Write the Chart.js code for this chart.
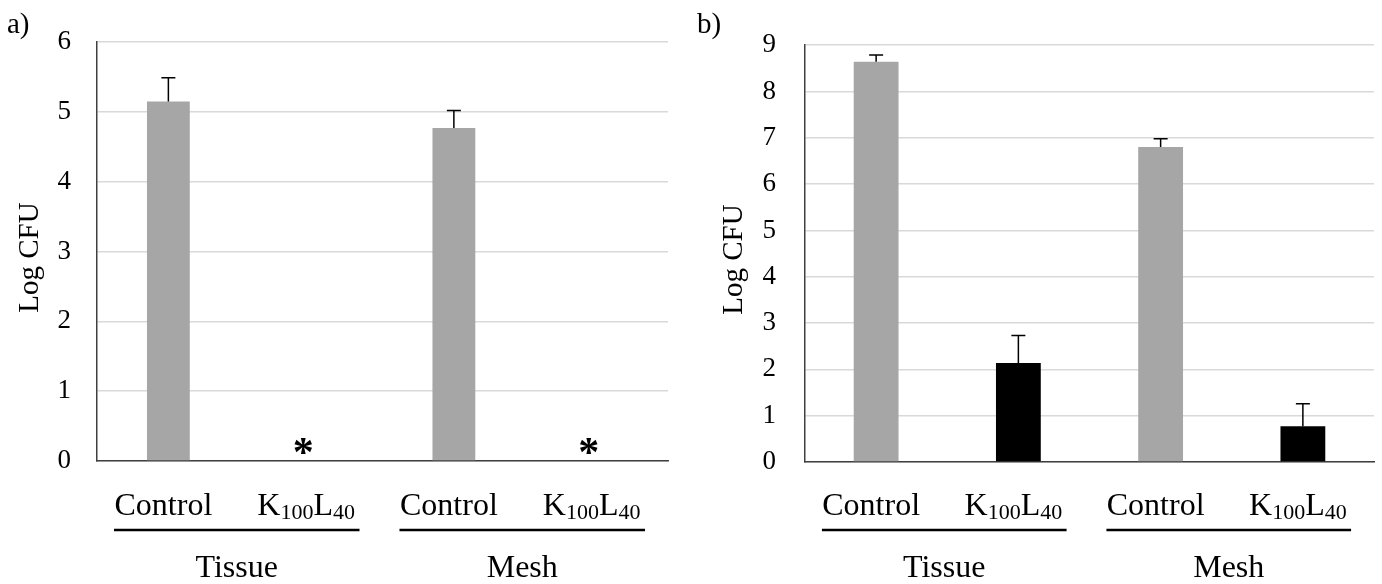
<!DOCTYPE html>
<html>
<head>
<meta charset="UTF-8">
<title>Log CFU - Tissue / Mesh</title>
<script src="https://cdn.jsdelivr.net/npm/chart.js@4"></script>
<style>
  html, body { margin: 0; padding: 0; background: #fff; }
  .panel { position: absolute; top: 0; height: 584px; }
  #pa { left: 0; width: 690px; }
  #pb { left: 690px; width: 692px; }
</style>
</head>
<body>
<div class="panel" id="pa"><canvas id="chartA"></canvas></div>
<div class="panel" id="pb"><canvas id="chartB"></canvas></div>
<script>
const categories = ['Control', 'K100L40', 'Control', 'K100L40'];
const groups = ['Tissue', 'Mesh'];
const barColors = ['#a6a6a6', '#000000', '#a6a6a6', '#000000'];

// panel a)
const valuesA = [5.15, 0, 4.77, 0];
const errorsA = [0.34, 0, 0.25, 0];
const starsA = ['', '*', '', '*'];
const ticksA = [0, 1, 2, 3, 4, 5, 6];

// panel b)
const valuesB = [8.64, 2.14, 6.80, 0.77];
const errorsB = [0.15, 0.59, 0.18, 0.49];
const starsB = ['', '', '', ''];
const ticksB = [0, 1, 2, 3, 4, 5, 6, 7, 8, 9];

const SERIF = "'Liberation Serif', 'Times New Roman', serif";

// draws "K100L40" with the digits as subscripts, centred on x
function drawLabel(ctx, text, x, y) {
  const parts = text.match(/[0-9]+|[^0-9]+/g);
  const fontFor = p => /^[0-9]+$/.test(p) ? `22px ${SERIF}` : `32px ${SERIF}`;
  let total = 0;
  parts.forEach(p => { ctx.font = fontFor(p); total += ctx.measureText(p).width; });
  let cx = x - total / 2;
  ctx.textAlign = 'left';
  parts.forEach(p => {
    ctx.font = fontFor(p);
    const sub = /^[0-9]+$/.test(p);
    ctx.fillText(p, cx, sub ? y + 4 : y);
    cx += ctx.measureText(p).width;
  });
}

const decoPlugin = {
  id: 'deco',
  afterDatasetsDraw(chart, args, opts) {
    const ctx = chart.ctx;
    const xs = chart.scales.x, ys = chart.scales.y;
    const meta = chart.getDatasetMeta(0);
    const vals = chart.data.datasets[0].data;
    const area = chart.chartArea;
    ctx.save();
    ctx.fillStyle = '#000';
    ctx.strokeStyle = '#000';

    // error bars (upper only)
    ctx.lineWidth = 1.5;
    meta.data.forEach((bar, i) => {
      const e = opts.errors[i];
      if (!e) return;
      const y0 = ys.getPixelForValue(vals[i]);
      const y1 = ys.getPixelForValue(vals[i] + e);
      ctx.beginPath();
      ctx.moveTo(bar.x, y0);
      ctx.lineTo(bar.x, y1);
      ctx.moveTo(bar.x - 7, y1);
      ctx.lineTo(bar.x + 7, y1);
      ctx.stroke();
    });

    // asterisks for below-detection values
    ctx.font = `bold 42px ${SERIF}`;
    ctx.textAlign = 'center';
    ctx.textBaseline = 'alphabetic';
    opts.stars.forEach((s, i) => {
      if (!s) return;
      ctx.fillText(s, xs.getPixelForValue(i) - 8, area.bottom + 5);
    });

    // category labels
    const cw = xs.getPixelForValue(1) - xs.getPixelForValue(0);
    categories.forEach((c, i) => {
      drawLabel(ctx, c, xs.getPixelForValue(i) - 5, 515);
    });

    // group underline + names
    groups.forEach((g, k) => {
      const gc = (xs.getPixelForValue(2 * k) + xs.getPixelForValue(2 * k + 1)) / 2 - 3;
      ctx.lineWidth = 2.5;
      ctx.beginPath();
      ctx.moveTo(gc - 0.86 * cw, 530);
      ctx.lineTo(gc + 0.86 * cw, 530);
      ctx.stroke();
      ctx.font = `32px ${SERIF}`;
      ctx.textAlign = 'center';
      ctx.fillText(g, gc, 577);
    });

    // y title
    ctx.save();
    ctx.translate(opts.titleX, (area.top + area.bottom) / 2 + 6);
    ctx.rotate(-Math.PI / 2);
    ctx.font = `29px ${SERIF}`;
    ctx.textAlign = 'center';
    ctx.textBaseline = 'middle';
    ctx.fillText('Log CFU', 0, 0);
    ctx.restore();

    // panel letter
    ctx.font = `29px ${SERIF}`;
    ctx.textAlign = 'left';
    ctx.textBaseline = 'alphabetic';
    ctx.fillText(opts.letter, 7, 33);
    ctx.restore();
  }
};

function makeChart(id, values, errors, stars, ticks, geo) {
  return new Chart(document.getElementById(id), {
    type: 'bar',
    data: {
      labels: categories,
      datasets: [{
        data: values,
        backgroundColor: barColors,
        borderWidth: 0,
        categoryPercentage: 1,
        barPercentage: geo.barPct
      }]
    },
    options: {
      responsive: true,
      maintainAspectRatio: false,
      animation: false,
      layout: { padding: { left: 0, top: geo.top, right: geo.right, bottom: 0 } },
      plugins: {
        legend: { display: false },
        tooltip: { enabled: false },
        deco: { errors, stars, letter: geo.letter, titleX: geo.titleX }
      },
      scales: {
        x: {
          ticks: { display: false },
          grid: { display: false, drawTicks: false },
          border: { color: '#404040', width: 1.5 },
          afterFit: s => { s.height = geo.xHeight; }
        },
        y: {
          min: ticks[0],
          max: ticks[ticks.length - 1],
          ticks: {
            stepSize: 1,
            color: '#000',
            padding: geo.tickPad,
            font: { family: SERIF, size: 27 }
          },
          grid: { color: '#d9d9d9', lineWidth: 1.5, drawTicks: false },
          border: { color: '#404040', width: 1.5 },
          afterFit: s => { s.width = geo.left; }
        }
      }
    },
    plugins: [decoPlugin]
  });
}

makeChart('chartA', valuesA, errorsA, starsA, ticksA,
  { left: 97, top: 20, right: 22, xHeight: 123, tickPad: 26, barPct: 0.30, letter: 'a)', titleX: 30 });
makeChart('chartB', valuesB, errorsB, starsB, ticksB,
  { left: 115, top: 22, right: 8, xHeight: 122, tickPad: 29, barPct: 0.315, letter: 'b)', titleX: 44 });
</script>
</body>
</html>
